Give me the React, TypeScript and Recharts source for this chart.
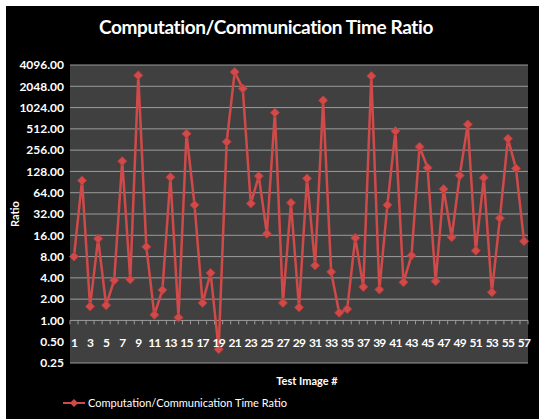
import { LineChart, Line, XAxis, YAxis, CartesianGrid, ReferenceLine, Legend } from "recharts";

const TEST_IMAGES = [
  1, 2, 3, 4, 5, 6, 7, 8, 9, 10, 11, 12, 13, 14, 15, 16, 17, 18, 19, 20,
  21, 22, 23, 24, 25, 26, 27, 28, 29, 30, 31, 32, 33, 34, 35, 36, 37, 38, 39, 40,
  41, 42, 43, 44, 45, 46, 47, 48, 49, 50, 51, 52, 53, 54, 55, 56, 57,
];

const RATIOS = [
  8, 95, 1.58, 14.3, 1.64, 3.7, 179, 3.8, 2920, 11,
  1.2, 2.7, 106, 1.1, 437, 43, 1.77, 4.7, 0.39, 336,
  3260, 1900, 45, 110, 16.8, 867, 1.77, 46, 1.53, 102,
  6, 1296, 4.86, 1.28, 1.45, 14.7, 2.98, 2860, 2.73, 43,
  477, 3.46, 8.3, 286, 144, 3.58, 72, 15, 112, 592,
  9.7, 104, 2.5, 28, 372, 141, 13.2,
];

const Y_TICKS = [0.25, 0.5, 1, 2, 4, 8, 16, 32, 64, 128, 256, 512, 1024, 2048, 4096];
// Excel left the 0.50 gridline out (the x labels sit on it)
const GRID_VALUES = Y_TICKS.filter((v) => v !== 0.5);

const SERIES_NAME = "Computation/Communication Time Ratio";

const W = 533;
const H = 413;
const PLOT_TOP = 59;
const PLOT_BOTTOM = 357;
// category axis crosses the value axis at 1.00
const AXIS_Y = PLOT_BOTTOM - ((PLOT_BOTTOM - PLOT_TOP) * 2) / 14;
const STEP = 450 / 56;
const FONT = "Lato, 'Open Sans', sans-serif";
const RED = "#d04a4a";

const data = TEST_IMAGES.map((n, i) => ({ image: n, ratio: RATIOS[i] }));

const XTick = (props: any) => {
  const { x, index, payload } = props;
  return (
    <g>
      <line x1={x - STEP / 2} x2={x - STEP / 2} y1={AXIS_Y} y2={AXIS_Y + 4} stroke="#9a9a9a" />
      {index === TEST_IMAGES.length - 1 && (
        <line x1={x + STEP / 2} x2={x + STEP / 2} y1={AXIS_Y} y2={AXIS_Y + 4} stroke="#9a9a9a" />
      )}
      {index % 2 === 0 && (
        <text
          x={x}
          y={AXIS_Y + 27}
          textAnchor="middle"
          fill="#fff"
          fontSize={12}
          fontWeight="bold"
          letterSpacing={-0.8}
          fontFamily={FONT}
        >
          {payload.value}
        </text>
      )}
    </g>
  );
};

const Diamond = (props: any) => {
  const { cx, cy, index } = props;
  if (cx == null || cy == null) return <g key={`d-${index}`} />;
  const r = 4.5;
  return (
    <polygon
      key={`d-${index}`}
      points={`${cx},${cy - r} ${cx + r},${cy} ${cx},${cy + r} ${cx - r},${cy}`}
      fill={RED}
      stroke="#b83c3c"
    />
  );
};

const RatioLabel = () => (
  <text
    x={13}
    y={208}
    transform="rotate(-90, 13, 208)"
    textAnchor="middle"
    fill="#fff"
    fontSize={11}
    fontWeight="bold"
    fontFamily={FONT}
  >
    Ratio
  </text>
);

const XTitle = () => (
  <text
    x={301}
    y={379}
    textAnchor="middle"
    fill="#fff"
    fontSize={11}
    fontWeight="bold"
    fontFamily={FONT}
  >
    Test Image #
  </text>
);

const LegendContent = () => (
  <div style={{ display: "flex", alignItems: "center", fontFamily: FONT, fontSize: 11, color: "#fff" }}>
    <svg width={25} height={12}>
      <line x1={0} x2={22} y1={6} y2={6} stroke={RED} strokeWidth={2} />
      <polygon points="11,2 15,6 11,10 7,6" fill={RED} />
    </svg>
    <span>{SERIES_NAME}</span>
  </div>
);

export default function App() {
  return (
    <div style={{ position: "fixed", left: 0, top: 0, width: 539, height: 419, background: "#fff" }}>
      <div style={{ position: "absolute", left: 6, top: 6, width: W, height: H, background: "#000" }}>
        <LineChart width={W} height={H} data={data} margin={{ top: PLOT_TOP, right: 11, bottom: 26, left: 0 }}>
          <CartesianGrid horizontal={false} vertical={false} fill="#404040" />
          {GRID_VALUES.map((v) => (
            <ReferenceLine key={v} y={v} stroke="#9a9a9a" strokeWidth={1} />
          ))}
          <XAxis
            dataKey="image"
            interval={0}
            height={30}
            padding={{ left: 4, right: 4 }}
            axisLine={false}
            tickLine={false}
            tick={<XTick />}
            label={<XTitle />}
          />
          <YAxis
            scale="log"
            domain={[0.25, 4096]}
            ticks={Y_TICKS}
            width={64}
            axisLine={false}
            tickLine={false}
            tickSize={0}
            tickMargin={6}
            tickFormatter={(v: number) => v.toFixed(2)}
            tick={{ fill: "#fff", fontSize: 12, fontWeight: "bold", fontFamily: FONT }}
            label={<RatioLabel />}
          />
          <Legend
            layout="horizontal"
            verticalAlign="middle"
            align="center"
            wrapperStyle={{ left: 57, top: 390, width: "auto" }}
            content={<LegendContent />}
          />
          <Line
            type="linear"
            dataKey="ratio"
            name={SERIES_NAME}
            stroke={RED}
            strokeWidth={2.5}
            dot={Diamond}
            activeDot={false}
            isAnimationActive={false}
          />
        </LineChart>
        <div
          style={{
            position: "absolute",
            left: 0,
            top: 9,
            width: 520,
            textAlign: "center",
            color: "#fff",
            fontFamily: FONT,
            fontSize: 19,
            fontWeight: "bold",
            letterSpacing: -0.4,
            lineHeight: "24px",
          }}
        >
          Computation/Communication Time Ratio
        </div>
      </div>
    </div>
  );
}
